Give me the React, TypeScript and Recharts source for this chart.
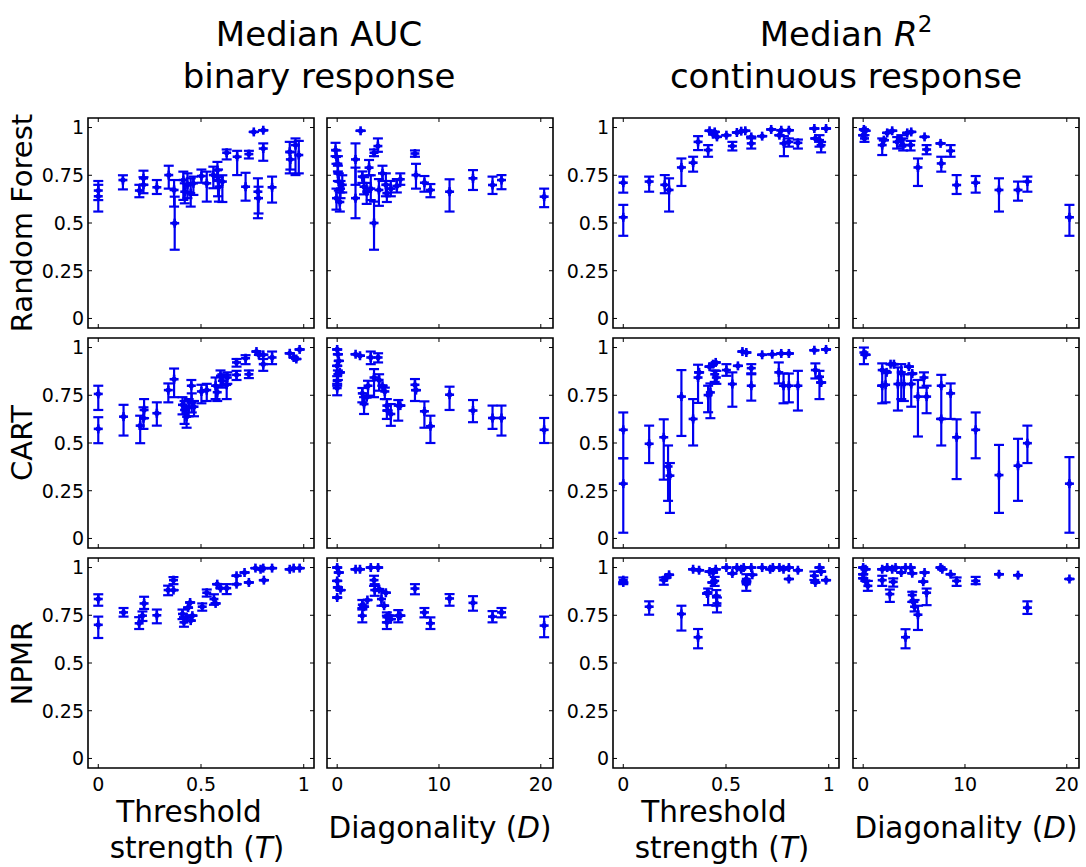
import React from 'react';
import { ScatterChart, Scatter, XAxis, YAxis, ErrorBar, ReferenceArea } from 'recharts';

// Each point: [x, median, lower bound, upper bound] (bounds omitted when the bar is hidden by the marker)
type Pt = number[];

const rfAucT: Pt[] = [
  [0, 0.67, 0.62, 0.72], [0, 0.64, 0.56, 0.7], [0.12, 0.725, 0.676, 0.75], [0.2, 0.67, 0.635, 0.7],
  [0.22, 0.7, 0.656, 0.74], [0.22, 0.734, 0.7, 0.774], [0.285, 0.687, 0.652, 0.725], [0.343, 0.751, 0.68, 0.8],
  [0.369, 0.673, 0.586, 0.725], [0.372, 0.499, 0.36, 0.638], [0.414, 0.725, 0.621, 0.769], [0.421, 0.664, 0.603, 0.708],
  [0.434, 0.699, 0.63, 0.76], [0.45, 0.656, 0.586, 0.734], [0.463, 0.708, 0.647, 0.743], [0.502, 0.746, 0.711, 0.78],
  [0.528, 0.708, 0.612, 0.769], [0.56, 0.751, 0.682, 0.795], [0.58, 0.777, 0.72, 0.82], [0.583, 0.725, 0.64, 0.78],
  [0.587, 0.69, 0.612, 0.74], [0.604, 0.717, 0.61, 0.75], [0.625, 0.868, 0.833, 0.885], [0.676, 0.847, 0.751, 0.878],
  [0.733, 0.861, 0.838, 0.878], [0.717, 0.69, 0.617, 0.763], [0.757, 0.977], [0.803, 0.986],
  [0.803, 0.89, 0.826, 0.917], [0.777, 0.664, 0.525, 0.734], [0.78, 0.63, 0.55, 0.69], [0.846, 0.687, 0.607, 0.743],
  [0.932, 0.873, 0.76, 0.925], [0.935, 0.833, 0.78, 0.87], [0.96, 0.908, 0.751, 0.943], [0.976, 0.856, 0.76, 0.93],
];

const rfAucD: Pt[] = [
  [-0.16, 0.882, 0.85, 0.92], [-0.07, 0.847, 0.81, 0.88], [0.07, 0.81, 0.77, 0.85], [0.07, 0.76, 0.72, 0.8],
  [0.16, 0.717, 0.67, 0.76], [0.33, 0.68, 0.63, 0.72], [-0.07, 0.63, 0.57, 0.68], [0.26, 0.61, 0.56, 0.66],
  [0.5, 0.7, 0.66, 0.75], [1.8, 0.833, 0.7, 0.917], [1.8, 0.63, 0.525, 0.79], [2.3, 0.983],
  [2.47, 0.743, 0.71, 0.77], [2.64, 0.69, 0.65, 0.74], [2.9, 0.664, 0.6, 0.71], [3.13, 0.79, 0.75, 0.83],
  [3.3, 0.68, 0.62, 0.75], [3.62, 0.5, 0.36, 0.612], [3.62, 0.868, 0.85, 0.885], [4.0, 0.903, 0.873, 0.943],
  [4.1, 0.673, 0.59, 0.73], [4.45, 0.76, 0.72, 0.8], [4.78, 0.7, 0.64, 0.76], [4.88, 0.656, 0.61, 0.7],
  [5.27, 0.68, 0.64, 0.72], [5.86, 0.694, 0.66, 0.73], [6.2, 0.729, 0.7, 0.76], [7.64, 0.864, 0.847, 0.88],
  [7.74, 0.751, 0.68, 0.81], [8.57, 0.711, 0.664, 0.746], [9.16, 0.673, 0.635, 0.704], [11.04, 0.664, 0.56, 0.729],
  [13.34, 0.734, 0.673, 0.777], [15.26, 0.699, 0.652, 0.743], [16.14, 0.725, 0.677, 0.751], [20.33, 0.638, 0.583, 0.68],
];

const rfR2T: Pt[] = [
  [0, 0.711, 0.659, 0.743], [0, 0.53, 0.433, 0.595], [0.126, 0.717, 0.664, 0.743], [0.202, 0.7, 0.656, 0.751],
  [0.223, 0.673, 0.56, 0.734], [0.283, 0.791, 0.694, 0.838], [0.34, 0.816, 0.769, 0.847], [0.364, 0.925, 0.882, 0.955],
  [0.413, 0.882, 0.847, 0.908], [0.42, 0.983], [0.437, 0.965], [0.445, 0.977], [0.456, 0.951], [0.502, 0.96],
  [0.531, 0.903, 0.88, 0.925], [0.553, 0.974], [0.574, 0.981], [0.594, 0.983], [0.623, 0.951],
  [0.623, 0.917, 0.89, 0.943], [0.676, 0.955], [0.72, 0.99], [0.769, 0.986], [0.806, 0.986], [0.76, 0.96],
  [0.782, 0.917, 0.85, 0.955], [0.806, 0.925, 0.9, 0.943], [0.85, 0.92, 0.89, 0.937], [0.93, 0.995],
  [0.935, 0.943], [0.955, 0.934, 0.9, 0.96], [0.963, 0.908, 0.87, 0.925], [0.987, 0.995],
];

const rfR2D: Pt[] = [
  [0.07, 0.99], [0.23, 0.983], [0, 0.96], [0.13, 0.943, 0.925, 0.96], [1.87, 0.908, 0.856, 0.943],
  [2.03, 0.934], [2.36, 0.972], [2.85, 0.983], [3.34, 0.925, 0.89, 0.95], [3.74, 0.937, 0.9, 0.96],
  [3.93, 0.908, 0.88, 0.943], [4.33, 0.972], [4.72, 0.977], [4.66, 0.908, 0.88, 0.93], [5.38, 0.791, 0.694, 0.838],
  [6.03, 0.951], [6.23, 0.885, 0.86, 0.908], [7.6, 0.917], [7.67, 0.812, 0.769, 0.847], [8.59, 0.878, 0.847, 0.908],
  [9.18, 0.699, 0.652, 0.751], [11.05, 0.711, 0.659, 0.746], [13.34, 0.673, 0.56, 0.734], [15.21, 0.673, 0.617, 0.717],
  [16.13, 0.717, 0.664, 0.743], [20.26, 0.53, 0.433, 0.595],
];

const cartAucT: Pt[] = [
  [0, 0.757, 0.673, 0.8], [0, 0.574, 0.499, 0.635], [0.123, 0.638, 0.539, 0.7], [0.204, 0.591, 0.499, 0.643],
  [0.22, 0.63, 0.574, 0.687], [0.223, 0.673, 0.63, 0.73], [0.285, 0.656, 0.591, 0.713], [0.341, 0.777, 0.713, 0.812],
  [0.369, 0.834, 0.74, 0.89], [0.41, 0.7, 0.65, 0.74], [0.42, 0.673, 0.6, 0.72], [0.43, 0.638, 0.58, 0.69],
  [0.44, 0.687, 0.64, 0.73], [0.455, 0.713, 0.66, 0.76], [0.453, 0.8, 0.713, 0.83], [0.466, 0.69, 0.64, 0.72],
  [0.502, 0.77, 0.708, 0.805], [0.528, 0.777, 0.72, 0.81], [0.571, 0.8, 0.73, 0.843], [0.579, 0.766, 0.72, 0.8],
  [0.595, 0.852, 0.8, 0.88], [0.604, 0.826, 0.79, 0.86], [0.625, 0.805, 0.73, 0.857], [0.628, 0.843, 0.81, 0.87],
  [0.673, 0.922, 0.9, 0.94], [0.673, 0.857, 0.83, 0.878], [0.717, 0.944, 0.913, 0.96], [0.733, 0.86, 0.84, 0.88],
  [0.77, 0.979], [0.782, 0.962], [0.803, 0.962], [0.803, 0.913, 0.878, 0.94], [0.846, 0.948, 0.913, 0.979],
  [0.932, 0.97], [0.951, 0.948], [0.964, 0.94], [0.98, 0.99],
];

const cartAucD: Pt[] = [
  [0, 0.99], [0.07, 0.965], [0.16, 0.93], [0, 0.904], [0.07, 0.86, 0.83, 0.88], [0.26, 0.87],
  [0, 0.826, 0.8, 0.85], [0, 0.788, 0.75, 0.81], [1.81, 0.965], [2.24, 0.957], [3.3, 0.948, 0.913, 0.979],
  [4.02, 0.948, 0.922, 0.97], [2.47, 0.76, 0.713, 0.788], [2.64, 0.704, 0.652, 0.74], [2.9, 0.74],
  [3.03, 0.8, 0.748, 0.826], [3.62, 0.843, 0.74, 0.887], [4.12, 0.83, 0.774, 0.86], [4.45, 0.8],
  [4.68, 0.77, 0.73, 0.79], [4.88, 0.696, 0.626, 0.73], [4.94, 0.67], [5.27, 0.652, 0.59, 0.704],
  [6.0, 0.696, 0.617, 0.725], [6.2, 0.696], [7.64, 0.805, 0.72, 0.835], [7.74, 0.777], [8.57, 0.666, 0.58, 0.718],
  [9.16, 0.588, 0.5, 0.643], [11.04, 0.753, 0.673, 0.795], [13.34, 0.67, 0.609, 0.725], [15.26, 0.631, 0.574, 0.696],
  [16.14, 0.631, 0.539, 0.696], [20.33, 0.569, 0.5, 0.631],
];

const cartR2T: Pt[] = [
  [0, 0.569, 0.42, 0.66], [0, 0.287, 0.03, 0.42], [0.126, 0.496, 0.395, 0.591], [0.197, 0.53, 0.308, 0.624],
  [0.218, 0.377, 0.197, 0.487], [0.227, 0.329, 0.134, 0.395], [0.283, 0.743, 0.537, 0.882], [0.34, 0.626, 0.487, 0.73],
  [0.364, 0.843, 0.71, 0.91], [0.369, 0.87], [0.413, 0.751, 0.661, 0.8], [0.424, 0.765, 0.63, 0.812], [0.42, 0.9],
  [0.437, 0.913], [0.45, 0.922], [0.445, 0.86, 0.82, 0.88], [0.453, 0.843, 0.81, 0.878], [0.502, 0.882, 0.852, 0.913],
  [0.531, 0.809, 0.69, 0.87], [0.558, 0.904], [0.58, 0.979], [0.599, 0.974], [0.623, 0.892, 0.865, 0.913],
  [0.623, 0.8, 0.722, 0.86], [0.676, 0.962], [0.725, 0.965], [0.769, 0.969], [0.806, 0.969],
  [0.757, 0.87, 0.812, 0.922], [0.78, 0.8, 0.708, 0.864], [0.806, 0.8, 0.713, 0.864], [0.85, 0.8, 0.67, 0.878],
  [0.93, 0.986], [0.935, 0.882, 0.838, 0.917], [0.955, 0.847, 0.73, 0.878], [0.963, 0.817], [0.987, 0.99],
];

const cartR2D: Pt[] = [
  [0.07, 0.974, 0.913, 1.0], [0.23, 0.962], [1.87, 0.882, 0.708, 0.917], [1.87, 0.8], [2.2, 0.805, 0.713, 0.878],
  [2.3, 0.87], [2.69, 0.913], [3.02, 0.913], [3.41, 0.809, 0.67, 0.896], [3.74, 0.87, 0.73, 0.913],
  [4.0, 0.809, 0.72, 0.86], [4.49, 0.9], [4.72, 0.809, 0.69, 0.86], [4.82, 0.864], [5.38, 0.743, 0.534, 0.83],
  [5.97, 0.843, 0.79, 0.87], [6.23, 0.743, 0.656, 0.8], [7.67, 0.8, 0.487, 0.857], [7.67, 0.626],
  [8.59, 0.76, 0.626, 0.812], [9.18, 0.53, 0.311, 0.624], [11.05, 0.569, 0.42, 0.66], [13.34, 0.332, 0.134, 0.49],
  [15.21, 0.381, 0.197, 0.522], [16.13, 0.499, 0.395, 0.591], [20.26, 0.287, 0.03, 0.426],
];

const npmrAucT: Pt[] = [
  [0, 0.835, 0.8, 0.86], [0, 0.7, 0.631, 0.743], [0.123, 0.765, 0.743, 0.788], [0.199, 0.708, 0.678, 0.74],
  [0.215, 0.748, 0.72, 0.77], [0.223, 0.812, 0.783, 0.847], [0.285, 0.75, 0.708, 0.78], [0.34, 0.882, 0.855, 0.905],
  [0.366, 0.934, 0.913, 0.95], [0.366, 0.882], [0.41, 0.757, 0.73, 0.78], [0.417, 0.713, 0.69, 0.74], [0.43, 0.74],
  [0.437, 0.79], [0.447, 0.817], [0.458, 0.748], [0.45, 0.722], [0.506, 0.795, 0.774, 0.812],
  [0.528, 0.868, 0.848, 0.885], [0.563, 0.835, 0.805, 0.86], [0.571, 0.812], [0.579, 0.913], [0.595, 0.892],
  [0.625, 0.892, 0.861, 0.913], [0.673, 0.913], [0.673, 0.957], [0.712, 0.974], [0.733, 0.922], [0.765, 0.997],
  [0.79, 0.991], [0.803, 0.997], [0.806, 0.934], [0.846, 0.997], [0.932, 0.991], [0.951, 0.997], [0.98, 0.997],
];

const npmrAucD: Pt[] = [
  [0, 1.0], [0.16, 0.974], [0, 0.93], [0.07, 0.896], [0.33, 0.882], [0, 0.843], [1.81, 0.991], [2.24, 0.991],
  [3.3, 1.0], [4.02, 1.0], [2.47, 0.805, 0.78, 0.83], [2.64, 0.795], [2.97, 0.83], [2.47, 0.748, 0.713, 0.788],
  [3.62, 0.934, 0.904, 0.957], [3.69, 0.882, 0.852, 0.913], [4.12, 0.887], [4.35, 0.835, 0.8, 0.878], [4.61, 0.8],
  [4.78, 0.868], [4.88, 0.74, 0.713, 0.765], [4.88, 0.713, 0.678, 0.748], [5.1, 0.748], [5.27, 0.73],
  [6.0, 0.748, 0.713, 0.777], [6.2, 0.748], [7.64, 0.89, 0.86, 0.913], [8.57, 0.765, 0.739, 0.788],
  [9.16, 0.708, 0.678, 0.739], [11.04, 0.838, 0.8, 0.861], [13.34, 0.815, 0.774, 0.85], [15.26, 0.743, 0.713, 0.772],
  [16.14, 0.765, 0.739, 0.788], [20.33, 0.696, 0.635, 0.743],
];

const npmrR2T: Pt[] = [
  [0, 0.934, 0.913, 0.948], [0, 0.922], [0.126, 0.795, 0.753, 0.823], [0.197, 0.934, 0.91, 0.948], [0.21, 0.948],
  [0.223, 0.962], [0.283, 0.757, 0.67, 0.8], [0.34, 0.991], [0.369, 0.986], [0.364, 0.635, 0.577, 0.678],
  [0.413, 0.87, 0.803, 0.89], [0.408, 0.864], [0.42, 0.979], [0.434, 0.922], [0.437, 0.974],
  [0.445, 0.93, 0.904, 0.951], [0.453, 0.852, 0.8, 0.882], [0.456, 0.812, 0.765, 0.843], [0.45, 0.991],
  [0.502, 1.0], [0.531, 0.969], [0.553, 1.0], [0.574, 0.991], [0.586, 1.0], [0.599, 0.94, 0.922, 0.965],
  [0.599, 0.913, 0.878, 0.93], [0.623, 1.0], [0.628, 0.962], [0.676, 1.0], [0.715, 0.991], [0.728, 1.0],
  [0.76, 1.0], [0.78, 0.991], [0.806, 1.0], [0.806, 0.94], [0.85, 0.986], [0.93, 0.957, 0.935, 0.979],
  [0.935, 0.922], [0.955, 1.0], [0.963, 0.979], [0.987, 0.934],
];

const npmrR2D: Pt[] = [
  [0, 1.0], [0.23, 0.991], [0, 0.965], [0, 0.944], [0.23, 0.93], [0.46, 0.904, 0.878, 0.93], [1.87, 0.991],
  [1.87, 0.934, 0.904, 0.957], [2.36, 1.0], [2.85, 0.991], [2.62, 0.861, 0.82, 0.885], [2.95, 0.925, 0.9, 0.943],
  [3.18, 1.0], [3.74, 0.974], [4.16, 1.0], [4.66, 1.0], [4.82, 0.97], [4.16, 0.635, 0.577, 0.677],
  [4.82, 0.856, 0.82, 0.873], [4.92, 0.82], [5.05, 0.795, 0.77, 0.83], [5.38, 0.753, 0.673, 0.8], [6.03, 0.974],
  [5.9, 0.926], [6.23, 0.868, 0.803, 0.89], [7.6, 1.0], [7.77, 0.991], [8.59, 0.965], [9.18, 0.93, 0.904, 0.948],
  [11.05, 0.93, 0.913, 0.951], [13.34, 0.965], [15.21, 0.96], [16.13, 0.79, 0.757, 0.823], [20.26, 0.94],
];

const yTicks = [0, 0.25, 0.5, 0.75, 1];
const tTicks = [0, 0.5, 1];
const dTicks = [0, 10, 20];
const yDomain: [number, number] = [-0.05, 1.05];
const tDomain: [number, number] = [-0.05, 1.05];
const dDomain: [number, number] = [-1, 21.2];

const rowLabels = ['Random Forest', 'CART', 'NPMR'];

const BLUE = '#0000f0';
const FONT = 'DejaVu Sans, Verdana, sans-serif';
const W = 226;
const H = 210;
const PAD = { l: 62, r: 16, t: 10, b: 36 };
const colLefts = [88, 327, 613, 853];
const rowTops = [118, 338, 558];

const Marker = (props: any) => {
  const { cx, cy } = props;
  if (cx == null || cy == null) return null;
  return (
    <g>
      <line x1={cx - 4.5} x2={cx + 4.5} y1={cy} y2={cy} stroke={BLUE} strokeWidth={2.6} />
      <line x1={cx} x2={cx} y1={cy - 4.5} y2={cy + 4.5} stroke={BLUE} strokeWidth={2.6} />
      <circle cx={cx} cy={cy} r={2.6} fill={BLUE} />
    </g>
  );
};

const fmt = (v: number) => String(v);

function Panel({ data, xDomain, xTicks, col, row }: { data: Pt[]; xDomain: [number, number]; xTicks: number[]; col: number; row: number }) {
  const rows = data.map((p) => {
    const [x, y, lo, hi] = p;
    const l = lo == null ? y : lo;
    const h = hi == null ? y : hi;
    return { x, y, err: [y - l, h - y] };
  });
  const showY = col === 0 || col === 2;
  const showX = row === 2;
  // plot area in chart SVG coordinates
  const top = PAD.t;
  const bottom = PAD.t + H;
  const left = PAD.l;
  const right = PAD.l + W;

  const xTick = (p: any) => (
    <g>
      <line x1={p.x} x2={p.x} y1={bottom} y2={bottom - 4} stroke="#000" strokeWidth={1} />
      <line x1={p.x} x2={p.x} y1={top} y2={top + 4} stroke="#000" strokeWidth={1} />
      {showX && (
        <text x={p.x} y={bottom + 23} textAnchor="middle" fontSize={19} fontFamily={FONT} fill="#000">
          {fmt(p.payload.value)}
        </text>
      )}
    </g>
  );
  const yTick = (p: any) => (
    <g>
      <line x1={left} x2={left + 4} y1={p.y} y2={p.y} stroke="#000" strokeWidth={1} />
      <line x1={right} x2={right - 4} y1={p.y} y2={p.y} stroke="#000" strokeWidth={1} />
      {showY && (
        <text x={left - 4} y={p.y} dy="0.36em" textAnchor="end" fontSize={19} fontFamily={FONT} fill="#000">
          {fmt(p.payload.value)}
        </text>
      )}
    </g>
  );

  return (
    <div style={{ position: 'absolute', left: colLefts[col] - PAD.l, top: rowTops[row] - PAD.t }}>
      <ScatterChart
        width={W + PAD.l + PAD.r}
        height={H + PAD.t + PAD.b}
        margin={{ top: PAD.t, right: PAD.r, bottom: PAD.b - 1, left: PAD.l - 1 }}
      >
        <XAxis
          type="number"
          dataKey="x"
          domain={xDomain}
          ticks={xTicks}
          interval={0}
          height={1}
          axisLine={false}
          tickLine={false}
          tick={xTick}
          allowDataOverflow
        />
        <YAxis
          type="number"
          dataKey="y"
          domain={yDomain}
          ticks={yTicks}
          interval={0}
          width={1}
          axisLine={false}
          tickLine={false}
          tick={yTick}
          allowDataOverflow
        />
        <ReferenceArea
          x1={xDomain[0]}
          x2={xDomain[1]}
          y1={yDomain[0]}
          y2={yDomain[1]}
          fill="none"
          fillOpacity={0}
          stroke="#000"
          strokeWidth={1.6}
          strokeOpacity={1}
        />
        <Scatter data={rows} isAnimationActive={false} shape={Marker} fill={BLUE}>
          <ErrorBar dataKey="err" direction="y" width={5} stroke={BLUE} strokeWidth={2.2} isAnimationActive={false} />
        </Scatter>
      </ScatterChart>
    </div>
  );
}

const panels: { data: Pt[]; dom: [number, number]; ticks: number[] }[][] = [
  [
    { data: rfAucT, dom: tDomain, ticks: tTicks },
    { data: rfAucD, dom: dDomain, ticks: dTicks },
    { data: rfR2T, dom: tDomain, ticks: tTicks },
    { data: rfR2D, dom: dDomain, ticks: dTicks },
  ],
  [
    { data: cartAucT, dom: tDomain, ticks: tTicks },
    { data: cartAucD, dom: dDomain, ticks: dTicks },
    { data: cartR2T, dom: tDomain, ticks: tTicks },
    { data: cartR2D, dom: dDomain, ticks: dTicks },
  ],
  [
    { data: npmrAucT, dom: tDomain, ticks: tTicks },
    { data: npmrAucD, dom: dDomain, ticks: dTicks },
    { data: npmrR2T, dom: tDomain, ticks: tTicks },
    { data: npmrR2D, dom: dDomain, ticks: dTicks },
  ],
];

export default function App() {
  const titleSize = 34;
  const axSize = 29.5;
  return (
    <div style={{ position: 'absolute', left: 0, top: 0, width: 1086, height: 867, background: '#fff', overflow: 'hidden' }}>
      {panels.map((r, ri) =>
        r.map((p, ci) => <Panel key={`${ri}-${ci}`} data={p.data} xDomain={p.dom} xTicks={p.ticks} col={ci} row={ri} />)
      )}
      <svg width={1086} height={867} style={{ position: 'absolute', left: 0, top: 0, pointerEvents: 'none' }}>
        <g fontFamily={FONT} fill="#000">
          <text x={319} y={46} fontSize={titleSize} textAnchor="middle">Median AUC</text>
          <text x={319} y={88} fontSize={titleSize} textAnchor="middle">binary response</text>
          <text x={846} y={46} fontSize={titleSize} textAnchor="middle">
            <tspan>Median </tspan>
            <tspan fontStyle="italic">R</tspan>
            <tspan fontSize={23} dy={-14}>2</tspan>
          </text>
          <text x={846} y={88} fontSize={titleSize} textAnchor="middle">continuous response</text>
          {rowLabels.map((l, i) => (
            <text
              key={l}
              transform={`translate(${22}, ${rowTops[i] + H / 2}) rotate(-90)`}
              fontSize={29}
              textAnchor="middle"
              dy="0.36em"
            >
              {l}
            </text>
          ))}
          {[0, 2].map((c) => (
            <g key={c}>
              <text x={colLefts[c] + 101} y={822} fontSize={axSize} textAnchor="middle">Threshold</text>
              <text x={colLefts[c] + 109} y={858} fontSize={axSize} textAnchor="middle">
                <tspan>strength (</tspan>
                <tspan fontStyle="italic">T</tspan>
                <tspan>)</tspan>
              </text>
            </g>
          ))}
          {[1, 3].map((c) => (
            <text key={c} x={colLefts[c] + W / 2} y={838} fontSize={axSize} textAnchor="middle">
              <tspan>Diagonality (</tspan>
              <tspan fontStyle="italic">D</tspan>
              <tspan>)</tspan>
            </text>
          ))}
        </g>
      </svg>
    </div>
  );
}
